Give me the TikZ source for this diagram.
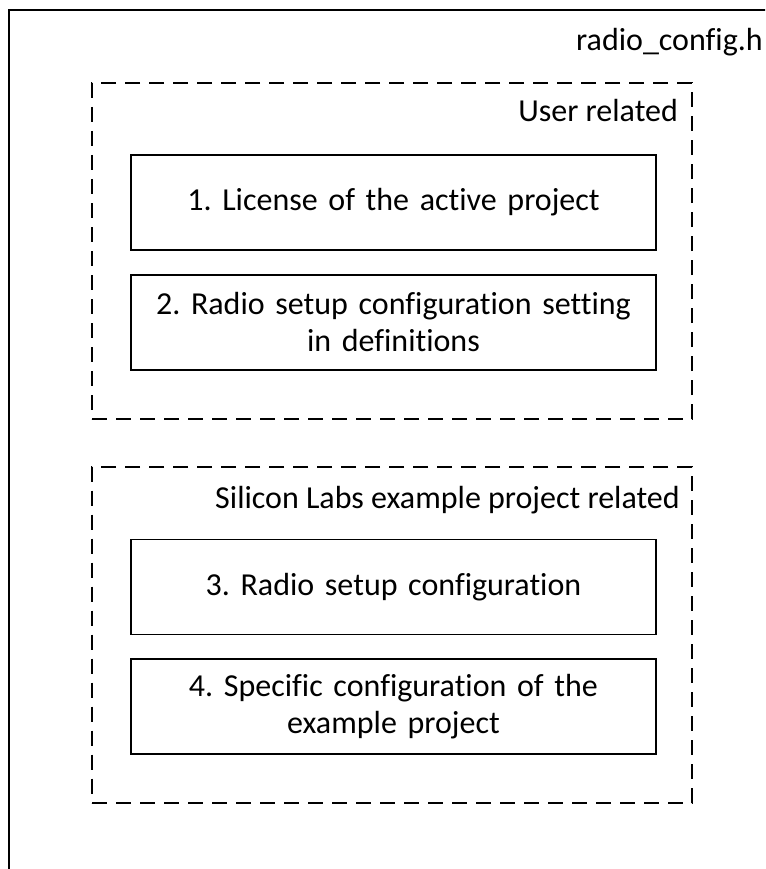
\documentclass[tikz,border=0pt]{standalone}
\usepackage{fontspec}
\setmainfont{Carlito}[Ligatures={NoCommon}]
\frenchspacing
\begin{document}
\begin{tikzpicture}[x=1pt,y=-1pt,
  every node/.style={font=\fontsize{32}{37}\selectfont, inner sep=0pt},
  itembox/.style={draw, line width=1.5pt, minimum width=525pt, minimum height=95pt, align=center, text width=510pt},
  groupbox/.style={draw, line width=2pt, dash pattern=on 15pt off 9pt, minimum width=600pt, minimum height=336pt},
  lbl/.style={anchor=base east}]
\useasboundingbox (0,0) rectangle (765,869);
\clip (0,0) rectangle (765,869);
% outer file frame (clipped at right and bottom)
\draw[line width=2pt] (9,900) -- (9,10) -- (800,10);
\node[lbl] (file) at (763,51) {radio\_config.h};

% user related group
\node[groupbox] (user) at (392,251) {};
\node[lbl] (userlbl) at (678,122) {User related};
\node[itembox] (b1) at (393.5,202.5) {1. License of the active project};
\node[itembox] (b2) at (393.5,322.5) {2. Radio setup configuration setting\\in definitions};

% silicon labs group
\node[groupbox] (silabs) at (392,634.5) {};
\node[lbl] (silabslbl) at (680,508) {Silicon Labs example project related};
\node[itembox] (b3) at (393.5,587) {3. Radio setup configuration};
\node[itembox] (b4) at (393.5,706.5) {4. Specific configuration of the\\example project};
\end{tikzpicture}
\end{document}
